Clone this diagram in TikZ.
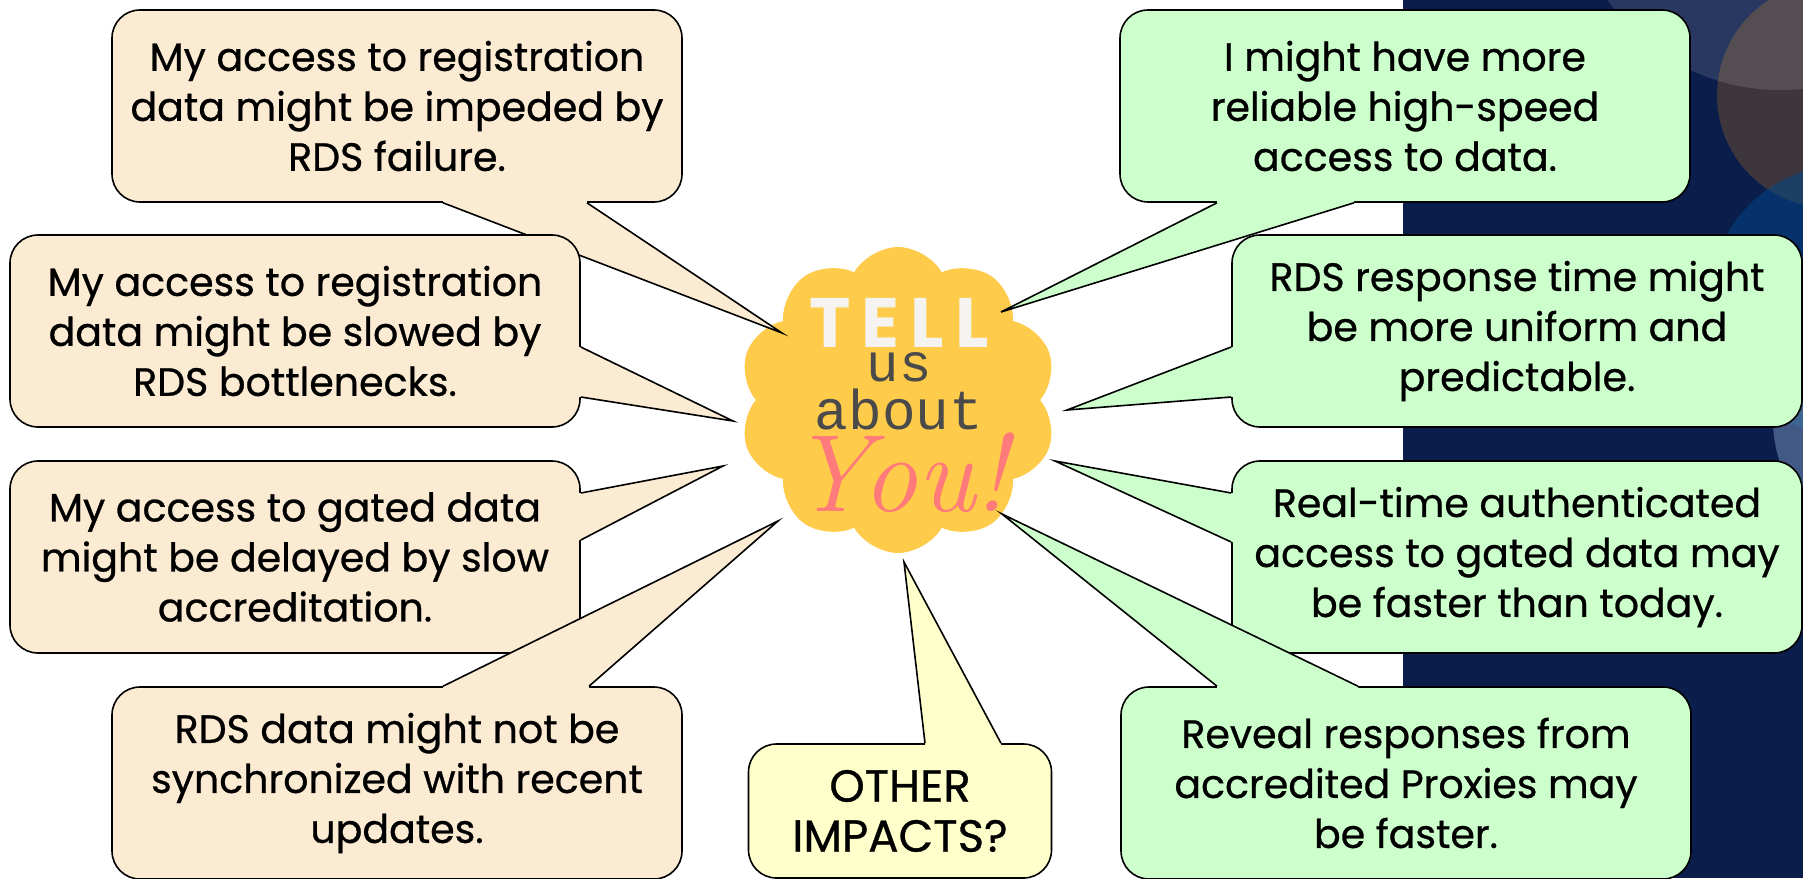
\documentclass[tikz,border=0pt]{standalone}
\usepackage{fontspec}
\usetikzlibrary{shapes.symbols}
\newfontfamily\comicfont[FakeBold=0.7]{Poppins}
\newfontfamily\tellfont{Poppins}
\newfontfamily\typefont{Liberation Mono}
\definecolor{peach}{RGB}{252,235,211}
\definecolor{mint}{RGB}{204,255,204}
\definecolor{cream}{RGB}{255,255,204}
\definecolor{sunny}{RGB}{254,203,74}
\definecolor{rose}{RGB}{255,122,122}
\definecolor{slate}{RGB}{74,74,74}
\definecolor{chalk}{RGB}{245,243,240}
\definecolor{navy}{RGB}{11,29,75}
\definecolor{rust}{RGB}{95,72,50}
\definecolor{sea}{RGB}{0,72,140}
\definecolor{sky}{RGB}{120,150,190}
\tikzset{
  bubble/.style={draw=black, line width=1.6pt, rounded corners=28pt, inner sep=0pt,
    minimum width=570pt, minimum height=192pt, align=center,
    font=\comicfont\fontsize{39.5}{50}\selectfont},
  leftbubble/.style={bubble, fill=peach},
  rightbubble/.style={bubble, fill=mint},
  askbubble/.style={bubble, fill=cream, minimum width=303pt, minimum height=134pt,
    font=\comicfont\fontsize{45}{50}\selectfont},
  tailline/.style={line width=1.6pt},
}
\begin{document}
\begin{tikzpicture}[x=1pt,y=-1pt]
\useasboundingbox (0,0) rectangle (1803,878);
% dark panel on the right
\fill[navy] (1403,0) rectangle (1803,878);
\begin{scope}
\clip (1403,0) rectangle (1803,878);
\fill[rust, opacity=.6] (1830,95) circle (113pt);
\fill[white, opacity=.12] (1780,-120) circle (210pt);
\fill[sea, opacity=.5] (1845,300) circle (135pt);
\fill[sky, opacity=.5] (1905,420) circle (132pt);
\end{scope}
% the cloud
\node[cloud, cloud puffs=10, cloud puff arc=120, aspect=1.04, fill=sunny,
  minimum width=318pt, minimum height=306pt, inner sep=0pt] (blob) at (898,400) {};
\node[anchor=north, inner sep=0pt] (words) at (899,298) {\renewcommand\arraystretch{0}%
  \begin{tabular}{@{}c@{}}
  \color{chalk}\tellfont\bfseries\fontsize{70}{70}\selectfont\addfontfeatures{LetterSpace=16}TELL\\[5pt]
  \color{slate}\typefont\fontsize{54}{54}\selectfont us\\[8pt]
  \color{slate}\typefont\fontsize{56}{56}\selectfont about\\[3pt]
  \color{rose}\normalfont\itshape\fontsize{110}{110}\selectfont You!
  \end{tabular}};
% tips of the tails
\coordinate (t1) at (782,333);
\coordinate (t2) at (733,421);
\coordinate (t3) at (723,466);
\coordinate (t4) at (778,521);
\coordinate (t5) at (904,562);
\coordinate (t6) at (1001,312);
\coordinate (t7) at (1067,410);
\coordinate (t8) at (1055,461);
\coordinate (t9) at (1002,514);
% left side
\node[leftbubble] (b1) at (397,106) {My access to registration\\data might be impeded by\\RDS failure.};
\fill[peach] ([xshift=46pt,yshift=3pt]b1.south) -- ([xshift=46pt]b1.south) -- (t1) -- ([xshift=190pt]b1.south) -- ([xshift=190pt,yshift=3pt]b1.south) -- cycle;
\draw[tailline] ([xshift=46pt]b1.south) -- (t1) -- ([xshift=190pt]b1.south);
\node[leftbubble] (b2) at (295,331) {My access to registration\\data might be slowed by\\RDS bottlenecks.};
\fill[peach] ([xshift=-3pt,yshift=-16pt]b2.east) -- ([yshift=-16pt]b2.east) -- (t2) -- ([yshift=-66pt]b2.east) -- ([xshift=-3pt,yshift=-66pt]b2.east) -- cycle;
\draw[tailline] ([yshift=-16pt]b2.east) -- (t2) -- ([yshift=-66pt]b2.east);
\node[leftbubble] (b3) at (295,557) {My access to gated data\\might be delayed by slow\\accreditation.};
\fill[peach] ([xshift=-3pt,yshift=64pt]b3.east) -- ([yshift=64pt]b3.east) -- (t3) -- ([yshift=17pt]b3.east) -- ([xshift=-3pt,yshift=17pt]b3.east) -- cycle;
\draw[tailline] ([yshift=64pt]b3.east) -- (t3) -- ([yshift=17pt]b3.east);
\node[leftbubble] (b4) at (397,783) {RDS data might not be\\synchronized with recent\\updates.};
\fill[peach] ([xshift=46pt,yshift=-3pt]b4.north) -- ([xshift=46pt]b4.north) -- (t4) -- ([xshift=192pt]b4.north) -- ([xshift=192pt,yshift=-3pt]b4.north) -- cycle;
\draw[tailline] ([xshift=46pt]b4.north) -- (t4) -- ([xshift=192pt]b4.north);
% bottom middle
\node[askbubble] (b5) at (900,811) {OTHER\\IMPACTS?};
\fill[cream] ([xshift=25pt,yshift=-3pt]b5.north) -- ([xshift=25pt]b5.north) -- (t5) -- ([xshift=101pt]b5.north) -- ([xshift=101pt,yshift=-3pt]b5.north) -- cycle;
\draw[tailline] ([xshift=25pt]b5.north) -- (t5) -- ([xshift=101pt]b5.north);
% right side
\node[rightbubble] (b6) at (1405,106) {I might have more\\reliable high-speed\\access to data.};
\fill[mint] ([xshift=-188pt,yshift=3pt]b6.south) -- ([xshift=-188pt]b6.south) -- (t6) -- ([xshift=-51pt]b6.south) -- ([xshift=-51pt,yshift=3pt]b6.south) -- cycle;
\draw[tailline] ([xshift=-188pt]b6.south) -- (t6) -- ([xshift=-51pt]b6.south);
\node[rightbubble] (b7) at (1517,331) {RDS response time might\\be more uniform and\\predictable.};
\fill[mint] ([xshift=3pt,yshift=-16pt]b7.west) -- ([yshift=-16pt]b7.west) -- (t7) -- ([yshift=-66pt]b7.west) -- ([xshift=3pt,yshift=-66pt]b7.west) -- cycle;
\draw[tailline] ([yshift=-16pt]b7.west) -- (t7) -- ([yshift=-66pt]b7.west);
\node[rightbubble] (b8) at (1517,557) {Real-time authenticated\\access to gated data may\\be faster than today.};
\fill[mint] ([xshift=3pt,yshift=64pt]b8.west) -- ([yshift=64pt]b8.west) -- (t8) -- ([yshift=15pt]b8.west) -- ([xshift=3pt,yshift=15pt]b8.west) -- cycle;
\draw[tailline] ([yshift=64pt]b8.west) -- (t8) -- ([yshift=15pt]b8.west);
\node[rightbubble] (b9) at (1406,783) {Reveal responses from\\accredited Proxies may\\be faster.};
\fill[mint] ([xshift=-189pt,yshift=-3pt]b9.north) -- ([xshift=-189pt]b9.north) -- (t9) -- ([xshift=-48pt]b9.north) -- ([xshift=-48pt,yshift=-3pt]b9.north) -- cycle;
\draw[tailline] ([xshift=-189pt]b9.north) -- (t9) -- ([xshift=-48pt]b9.north);
\end{tikzpicture}
\end{document}
